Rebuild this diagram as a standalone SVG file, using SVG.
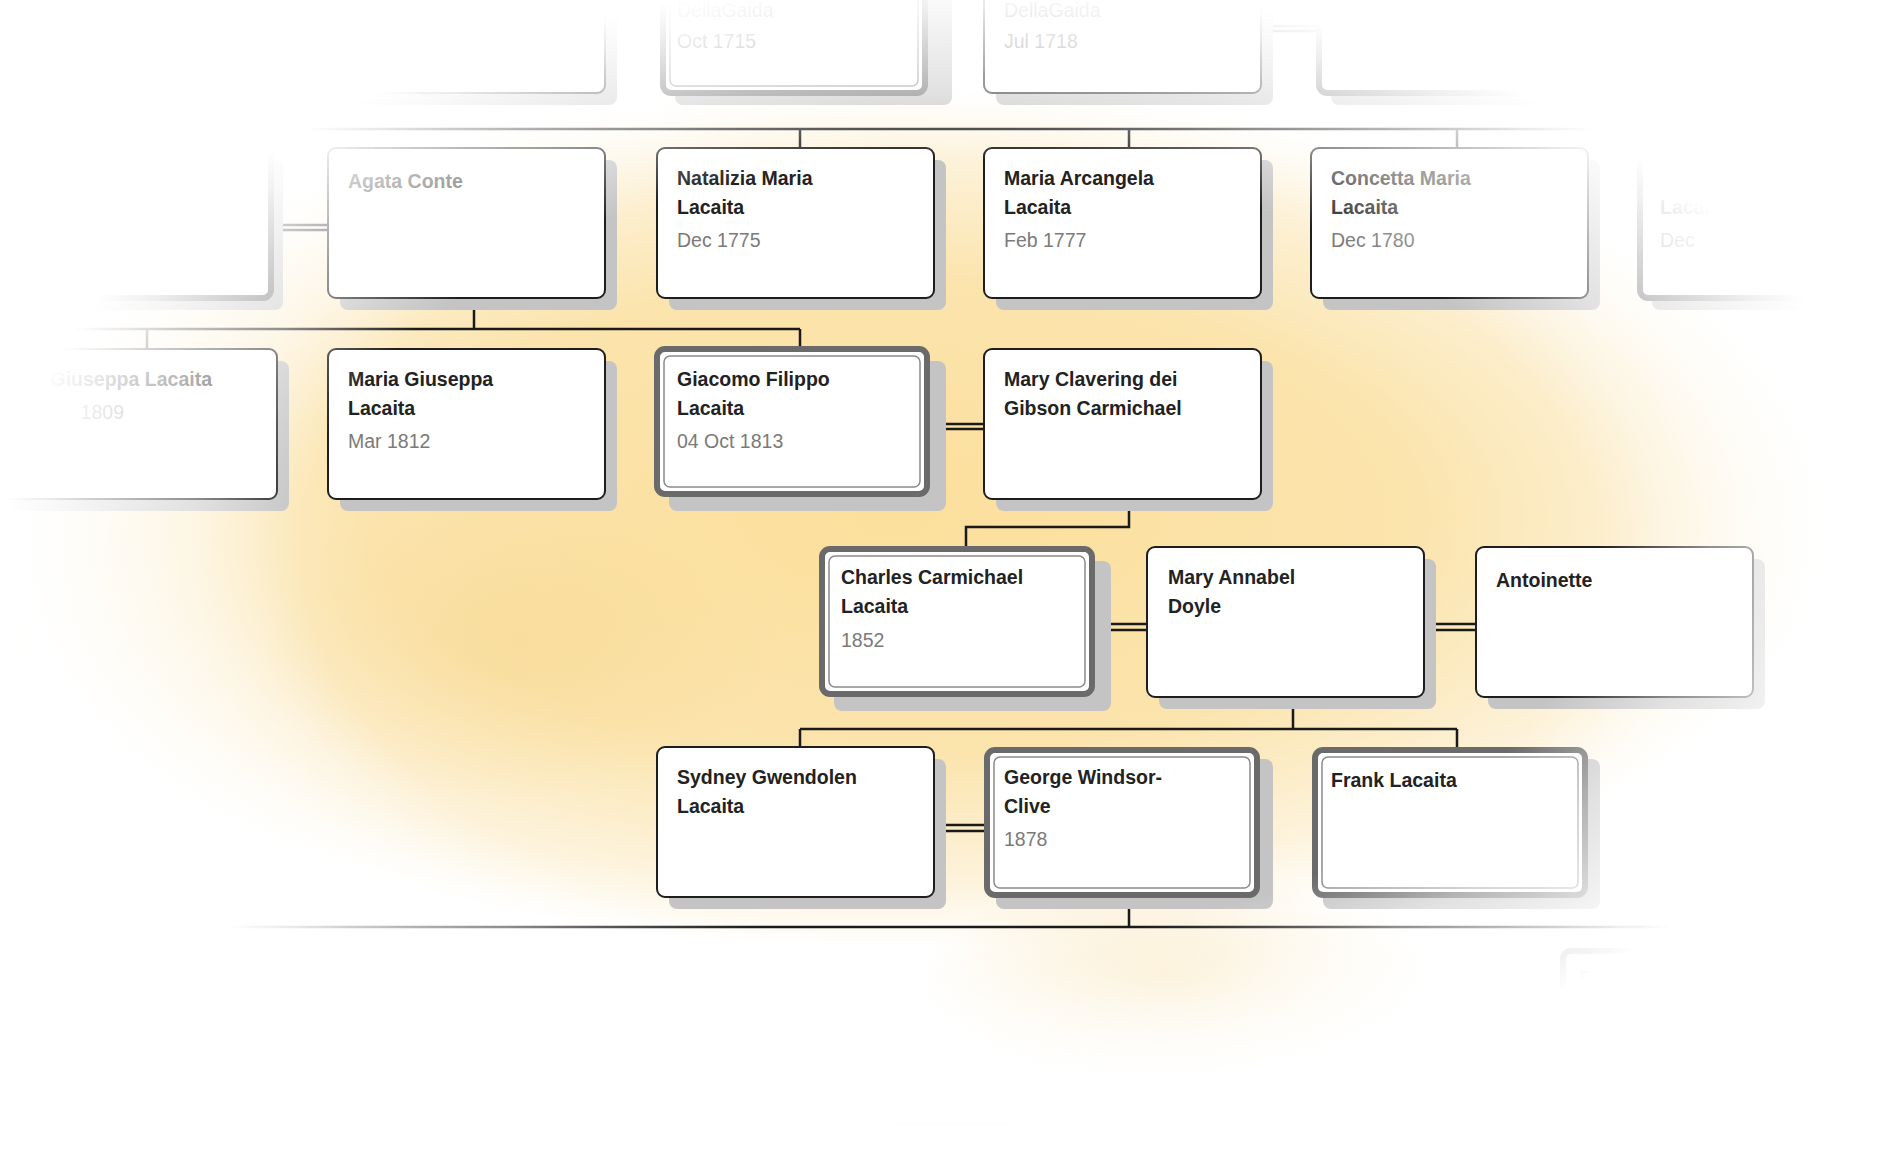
<svg xmlns="http://www.w3.org/2000/svg" width="1900" height="1150" viewBox="0 0 1900 1150">
<defs>
<radialGradient id="bg" cx="0.47" cy="0.45" r="0.5" gradientTransform="translate(0.47 0.45) scale(1 0.75) translate(-0.47 -0.45)">
<stop offset="0" stop-color="#fbdf9c"/><stop offset="0.55" stop-color="#fbe4ad"/><stop offset="0.85" stop-color="#fdf3dc"/><stop offset="1" stop-color="#ffffff"/>
</radialGradient>
<radialGradient id="blob" cx="0.5" cy="0.5" r="0.5">
<stop offset="0" stop-color="#f6d690" stop-opacity="0.5"/><stop offset="1" stop-color="#f6d690" stop-opacity="0"/>
</radialGradient>
<radialGradient id="fade" cx="0.5" cy="0.48" r="0.5">
<stop offset="0.68" stop-color="#fff" stop-opacity="0"/><stop offset="0.8" stop-color="#fff" stop-opacity="0.5"/><stop offset="0.95" stop-color="#fff" stop-opacity="0.9"/><stop offset="1" stop-color="#fff" stop-opacity="1"/>
</radialGradient>
</defs>
<style>
.sh{fill:#c4c4c4}
.bx{fill:#fff;stroke:#1e1e1e;stroke-width:2}
.hl{fill:#fff;stroke:#6a6a6a;stroke-width:6}
.hi{fill:none;stroke:#8a8a8a;stroke-width:1.5}
.n{font-family:"Liberation Sans",Arial,sans-serif;font-weight:bold;font-size:19.5px;fill:#222}
.d{font-family:"Liberation Sans",Arial,sans-serif;font-size:19.5px;fill:#7a7a7a}
.c{stroke:#1a1a1a;stroke-width:2.5;fill:none}
</style>
<rect width="1900" height="1150" fill="#fff"/>
<rect width="1900" height="1150" fill="url(#bg)"/>
<ellipse cx="520" cy="640" rx="260" ry="160" fill="url(#blob)"/>
<ellipse cx="1180" cy="980" rx="260" ry="110" fill="url(#blob)"/>
<g transform="translate(-9,-3)">
<g id="connectors">
<path class="c" d="M280 132H1620M809 132V151M1138 132V151M1466 132V151"/>
<path class="c" d="M483 300V332M0 332H809M156 332V352M809 332V352"/>
<path class="c" d="M1138 501V530H975V552"/>
<path class="c" d="M1302 700V732M809 732H1466M809 732V750M1466 732V750"/>
<path class="c" d="M1138 900V930M184 930H1716"/>
<path class="c" d="M150 1128H1750"/>
<path class="c" d="M1270 29H1328M1270 34H1328"/>
<path class="c" d="M280 228H337M280 233H337"/>
<path class="c" d="M943 427H993M943 432H993"/>
<path class="c" d="M1108 627H1156M1108 633H1156"/>
<path class="c" d="M1433 627H1485M1433 633H1485"/>
<path class="c" d="M943 828H993M943 834H993"/>
</g>
<g id="n1"><rect class="sh" x="349" y="-42" width="277" height="150" rx="8"/><rect class="bx" x="337" y="-54" width="277" height="150" rx="8"/></g>
<g id="n2"><rect class="sh" x="684" y="-42" width="277" height="150" rx="8"/><rect class="hl" x="672" y="-54" width="262" height="150" rx="8"/><rect class="hi" x="679" y="-47" width="248" height="136" rx="6"/><text class="d" x="686" y="20">DellaGaida</text><text class="d" x="686" y="51">Oct 1715</text></g>
<g id="n3"><rect class="sh" x="1005" y="-42" width="277" height="150" rx="8"/><rect class="bx" x="993" y="-54" width="277" height="150" rx="8"/><text class="d" x="1013" y="20">DellaGaida</text><text class="d" x="1013" y="51">Jul 1718</text></g>
<g id="n4"><rect class="sh" x="1340" y="-42" width="277" height="150" rx="8"/><rect class="hl" x="1328" y="-54" width="262" height="150" rx="8"/></g>
<g id="n5"><rect class="sh" x="15" y="163" width="277" height="150" rx="8"/><rect class="hl" x="3" y="151" width="277" height="150" rx="8"/></g>
<g id="n6"><rect class="sh" x="349" y="163" width="277" height="150" rx="8"/><rect class="bx" x="337" y="151" width="277" height="150" rx="8"/><text class="n" x="357" y="191">Agata Conte</text></g>
<g id="n7"><rect class="sh" x="678" y="163" width="277" height="150" rx="8"/><rect class="bx" x="666" y="151" width="277" height="150" rx="8"/><text class="n" x="686" y="188">Natalizia Maria</text><text class="n" x="686" y="217">Lacaita</text><text class="d" x="686" y="250">Dec 1775</text></g>
<g id="n8"><rect class="sh" x="1005" y="163" width="277" height="150" rx="8"/><rect class="bx" x="993" y="151" width="277" height="150" rx="8"/><text class="n" x="1013" y="188">Maria Arcangela</text><text class="n" x="1013" y="217">Lacaita</text><text class="d" x="1013" y="250">Feb 1777</text></g>
<g id="n9"><rect class="sh" x="1332" y="163" width="277" height="150" rx="8"/><rect class="bx" x="1320" y="151" width="277" height="150" rx="8"/><text class="n" x="1340" y="188">Concetta Maria</text><text class="n" x="1340" y="217">Lacaita</text><text class="d" x="1340" y="250">Dec 1780</text></g>
<g id="n10"><rect class="sh" x="1661" y="163" width="277" height="150" rx="8"/><rect class="hl" x="1649" y="151" width="277" height="150" rx="8"/><text class="n" x="1669" y="217">Lacaita</text><text class="d" x="1669" y="250">Dec</text></g>
<g id="n11"><rect class="sh" x="21" y="364" width="277" height="150" rx="8"/><rect class="bx" x="9" y="352" width="277" height="150" rx="8"/><text class="n" x="221" y="389" text-anchor="end">Giuseppa Lacaita</text><text class="d" x="133" y="422" text-anchor="end">1809</text></g>
<g id="n12"><rect class="sh" x="349" y="364" width="277" height="150" rx="8"/><rect class="bx" x="337" y="352" width="277" height="150" rx="8"/><text class="n" x="357" y="389">Maria Giuseppa</text><text class="n" x="357" y="418">Lacaita</text><text class="d" x="357" y="451">Mar 1812</text></g>
<g id="n13"><rect class="sh" x="678" y="364" width="277" height="150" rx="8"/><rect class="hl" x="666" y="352" width="270" height="145" rx="8"/><rect class="hi" x="673" y="359" width="256" height="131" rx="6"/><text class="n" x="686" y="389">Giacomo Filippo</text><text class="n" x="686" y="418">Lacaita</text><text class="d" x="686" y="451">04 Oct 1813</text></g>
<g id="n14"><rect class="sh" x="1005" y="364" width="277" height="150" rx="8"/><rect class="bx" x="993" y="352" width="277" height="150" rx="8"/><text class="n" x="1013" y="389">Mary Clavering dei</text><text class="n" x="1013" y="418">Gibson Carmichael</text></g>
<g id="n15"><rect class="sh" x="843" y="564" width="277" height="150" rx="8"/><rect class="hl" x="831" y="552" width="270" height="145" rx="8"/><rect class="hi" x="838" y="559" width="256" height="131" rx="6"/><text class="n" x="850" y="587">Charles Carmichael</text><text class="n" x="850" y="616">Lacaita</text><text class="d" x="850" y="650">1852</text></g>
<g id="n16"><rect class="sh" x="1168" y="562" width="277" height="150" rx="8"/><rect class="bx" x="1156" y="550" width="277" height="150" rx="8"/><text class="n" x="1177" y="587">Mary Annabel</text><text class="n" x="1177" y="616">Doyle</text></g>
<g id="n17"><rect class="sh" x="1497" y="562" width="277" height="150" rx="8"/><rect class="bx" x="1485" y="550" width="277" height="150" rx="8"/><text class="n" x="1505" y="590">Antoinette</text></g>
<g id="n18"><rect class="sh" x="678" y="762" width="277" height="150" rx="8"/><rect class="bx" x="666" y="750" width="277" height="150" rx="8"/><text class="n" x="686" y="787">Sydney Gwendolen</text><text class="n" x="686" y="816">Lacaita</text></g>
<g id="n19"><rect class="sh" x="1005" y="762" width="277" height="150" rx="8"/><rect class="hl" x="996" y="753" width="270" height="145" rx="8"/><rect class="hi" x="1003" y="760" width="256" height="131" rx="6"/><text class="n" x="1013" y="787">George Windsor-</text><text class="n" x="1013" y="816">Clive</text><text class="d" x="1013" y="849">1878</text></g>
<g id="n20"><rect class="sh" x="1332" y="762" width="277" height="150" rx="8"/><rect class="hl" x="1324" y="753" width="270" height="145" rx="8"/><rect class="hi" x="1331" y="760" width="256" height="131" rx="6"/><text class="n" x="1340" y="790">Frank Lacaita</text></g>
<g id="n21"><rect class="sh" x="1584" y="966" width="277" height="150" rx="8"/><rect class="hl" x="1572" y="954" width="270" height="145" rx="8"/><text class="n" x="1588" y="988">Francis</text><text class="n" x="1588" y="1017">Windsor</text></g>
<g id="n22"><rect class="bx" x="580" y="1148" width="277" height="150" rx="8"/><rect class="bx" x="1080" y="1148" width="277" height="150" rx="8"/></g>
</g>
<rect width="1900" height="1150" fill="url(#fade)"/>
</svg>
